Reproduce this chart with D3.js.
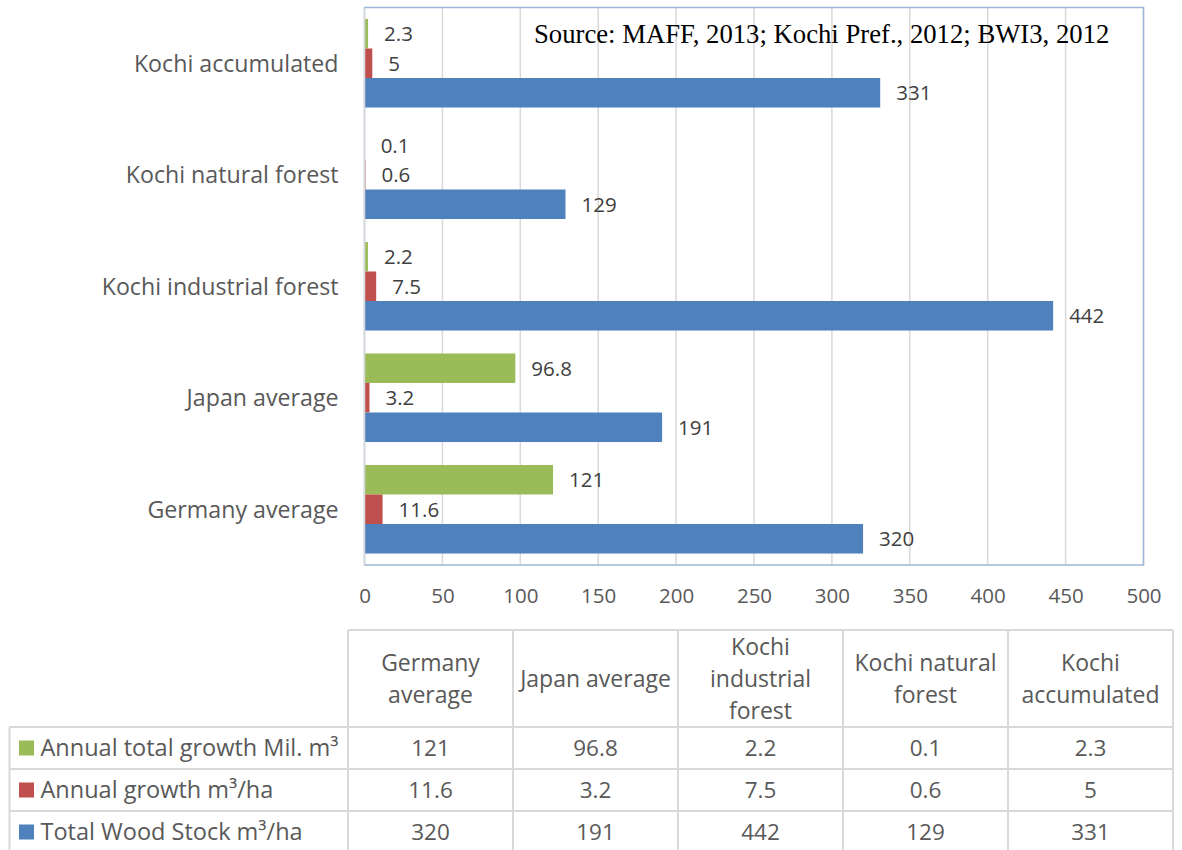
<!DOCTYPE html>
<html>
<head>
<meta charset="utf-8">
<script src="https://cdn.jsdelivr.net/npm/d3@7"></script>
<style>
  body { margin: 0; background: #fff; }
  text { font-family: "Open Sans", sans-serif; }
</style>
</head>
<body>
<div class="container"></div>
<script>
const w = 1182;
const h = 850;

// data, table order (left to right)
const categories = ['Germany average', 'Japan average', 'Kochi industrial forest', 'Kochi natural forest', 'Kochi accumulated'];
const headerLines = [['Germany', 'average'], ['Japan average'], ['Kochi', 'industrial', 'forest'], ['Kochi natural', 'forest'], ['Kochi', 'accumulated']];
const seriesNames = ['Annual total growth Mil. m³', 'Annual growth m³/ha', 'Total Wood Stock m³/ha'];
const totalGrowth = [121, 96.8, 2.2, 0.1, 2.3];
const annualGrowth = [11.6, 3.2, 7.5, 0.6, 5];
const woodStock = [320, 191, 442, 129, 331];
const xTicks = [0, 50, 100, 150, 200, 250, 300, 350, 400, 450, 500];
const sourceText = 'Source: MAFF, 2013; Kochi Pref., 2012; BWI3, 2012';

const seriesValues = [totalGrowth, annualGrowth, woodStock];
const colors = ['#9bbb59', '#c0504d', '#4f81bd'];

const plot = { left: 364.5, right: 1143.5, top: 7.5, bottom: 565 };

const svg = d3.select('.container')
    .append('svg')
    .attr('width', w)
    .attr('height', h);

const xScale = d3.scaleLinear()
    .domain([0, 500])
    .range([plot.left, plot.right]);

// chart shows categories bottom-to-top in table order
const yScale = d3.scaleBand()
    .domain(categories.slice().reverse())
    .range([plot.top, plot.bottom])
    .paddingInner(0.206)
    .paddingOuter(0.103);

const ySub = d3.scaleBand()
    .domain([0, 1, 2])
    .range([0, yScale.bandwidth()]);

// gridlines
svg.append('g')
    .selectAll('line')
    .data(xTicks.slice(1))
    .enter()
    .append('line')
    .attr('x1', d => xScale(d))
    .attr('x2', d => xScale(d))
    .attr('y1', plot.top)
    .attr('y2', plot.bottom)
    .attr('stroke', '#d9d9d9')
    .attr('stroke-width', 1.5);

// plot border
svg.append('rect')
    .attr('x', plot.left)
    .attr('y', plot.top)
    .attr('width', plot.right - plot.left)
    .attr('height', plot.bottom - plot.top)
    .attr('fill', 'none')
    .attr('stroke', '#9db7d9')
    .attr('stroke-width', 1.5);

// bars
const rows = categories.map((c, i) => ({ cat: c, vals: seriesValues.map(s => s[i]) }));

const groups = svg.selectAll('.group')
    .data(rows)
    .enter()
    .append('g')
    .attr('class', 'group')
    .attr('transform', d => `translate(0, ${yScale(d.cat)})`);

groups.selectAll('rect')
    .data(d => d.vals)
    .enter()
    .append('rect')
    .attr('x', xScale(0))
    .attr('y', (d, i) => ySub(i))
    .attr('width', d => xScale(d) - xScale(0))
    .attr('height', ySub.bandwidth())
    .attr('fill', (d, i) => colors[i]);

groups.selectAll('.val')
    .data(d => d.vals)
    .enter()
    .append('text')
    .attr('class', 'val')
    .attr('x', d => xScale(d) + 16)
    .attr('y', (d, i) => ySub(i) + ySub.bandwidth() / 2)
    .attr('dy', '0.36em')
    .attr('fill', '#404040')
    .style('font-size', '20.5px')
    .text(d => d);

// left axis line
svg.append('line')
    .attr('x1', plot.left)
    .attr('x2', plot.left)
    .attr('y1', plot.top)
    .attr('y2', plot.bottom)
    .attr('stroke', '#d9d9d9')
    .attr('stroke-width', 1.5);

// category labels
svg.append('g')
    .selectAll('text')
    .data(categories)
    .enter()
    .append('text')
    .attr('x', 338.5)
    .attr('y', d => yScale(d) + yScale.bandwidth() / 2)
    .attr('dy', '0.36em')
    .attr('text-anchor', 'end')
    .attr('fill', '#595959')
    .style('font-size', '23.2px')
    .text(d => d);

// x axis tick labels
const xAxis = d3.axisBottom(xScale).tickValues(xTicks).tickSize(0).tickPadding(0);
const xg = svg.append('g')
    .attr('transform', `translate(0, ${plot.bottom})`)
    .call(xAxis);
xg.select('.domain').remove();
xg.selectAll('text')
    .attr('y', 38)
    .attr('dy', 0)
    .attr('fill', '#595959')
    .style('font-size', '20.5px')
    .style('font-family', '"Open Sans", sans-serif');

// source note
svg.append('text')
    .attr('x', 534)
    .attr('y', 42.5)
    .attr('fill', '#000')
    .style('font-family', '"Liberation Serif", "Times New Roman", serif')
    .style('font-size', '26.7px')
    .text(sourceText);

// data table
const tbl = { left: 9.5, colLeft: 348, right: 1173, top: 630, headBottom: 727, rowH: 42, bottom: 852 };
const colScale = d3.scaleBand()
    .domain(categories)
    .range([tbl.colLeft, tbl.right]);

const tg = svg.append('g');
const lineColor = '#d9d9d9';

// horizontal lines
tg.append('line')
    .attr('x1', tbl.colLeft).attr('x2', tbl.right)
    .attr('y1', tbl.top).attr('y2', tbl.top)
    .attr('stroke', lineColor).attr('stroke-width', 2);
tg.selectAll('.hline')
    .data([0, 1, 2, 3])
    .enter()
    .append('line')
    .attr('x1', tbl.left).attr('x2', tbl.right)
    .attr('y1', d => tbl.headBottom + d * tbl.rowH)
    .attr('y2', d => tbl.headBottom + d * tbl.rowH)
    .attr('stroke', lineColor).attr('stroke-width', 2);

// vertical lines
tg.selectAll('.vline')
    .data(categories)
    .enter()
    .append('line')
    .attr('x1', d => colScale(d)).attr('x2', d => colScale(d))
    .attr('y1', tbl.top).attr('y2', tbl.bottom)
    .attr('stroke', lineColor).attr('stroke-width', 2);
tg.append('line')
    .attr('x1', tbl.right).attr('x2', tbl.right)
    .attr('y1', tbl.top).attr('y2', tbl.bottom)
    .attr('stroke', lineColor).attr('stroke-width', 2);
tg.append('line')
    .attr('x1', tbl.left).attr('x2', tbl.left)
    .attr('y1', tbl.headBottom).attr('y2', tbl.bottom)
    .attr('stroke', lineColor).attr('stroke-width', 2);

// header text
const headMid = (tbl.top + tbl.headBottom) / 2;
categories.forEach((c, i) => {
    const lines = headerLines[i];
    const t = tg.append('text')
        .attr('text-anchor', 'middle')
        .attr('fill', '#595959')
        .style('font-size', '23px');
    lines.forEach((ln, j) => {
        t.append('tspan')
            .attr('x', colScale(c) + colScale.bandwidth() / 2)
            .attr('y', headMid + (j - (lines.length - 1) / 2) * 32)
            .attr('dy', '0.36em')
            .text(ln);
    });
});

// legend rows + values
seriesNames.forEach((name, r) => {
    const cy = tbl.headBottom + r * tbl.rowH + tbl.rowH / 2;
    tg.append('rect')
        .attr('x', 19).attr('y', cy - 7.5)
        .attr('width', 15).attr('height', 15)
        .attr('fill', colors[r]);
    tg.append('text')
        .attr('x', 40.5).attr('y', cy)
        .attr('dy', '0.36em')
        .attr('fill', '#595959')
        .style('font-size', '23.5px')
        .text(name);
    categories.forEach((c, i) => {
        tg.append('text')
            .attr('x', colScale(c) + colScale.bandwidth() / 2)
            .attr('y', cy)
            .attr('dy', '0.36em')
            .attr('text-anchor', 'middle')
            .attr('fill', '#595959')
            .style('font-size', '22.5px')
            .text(seriesValues[r][i]);
    });
});
</script>
</body>
</html>
